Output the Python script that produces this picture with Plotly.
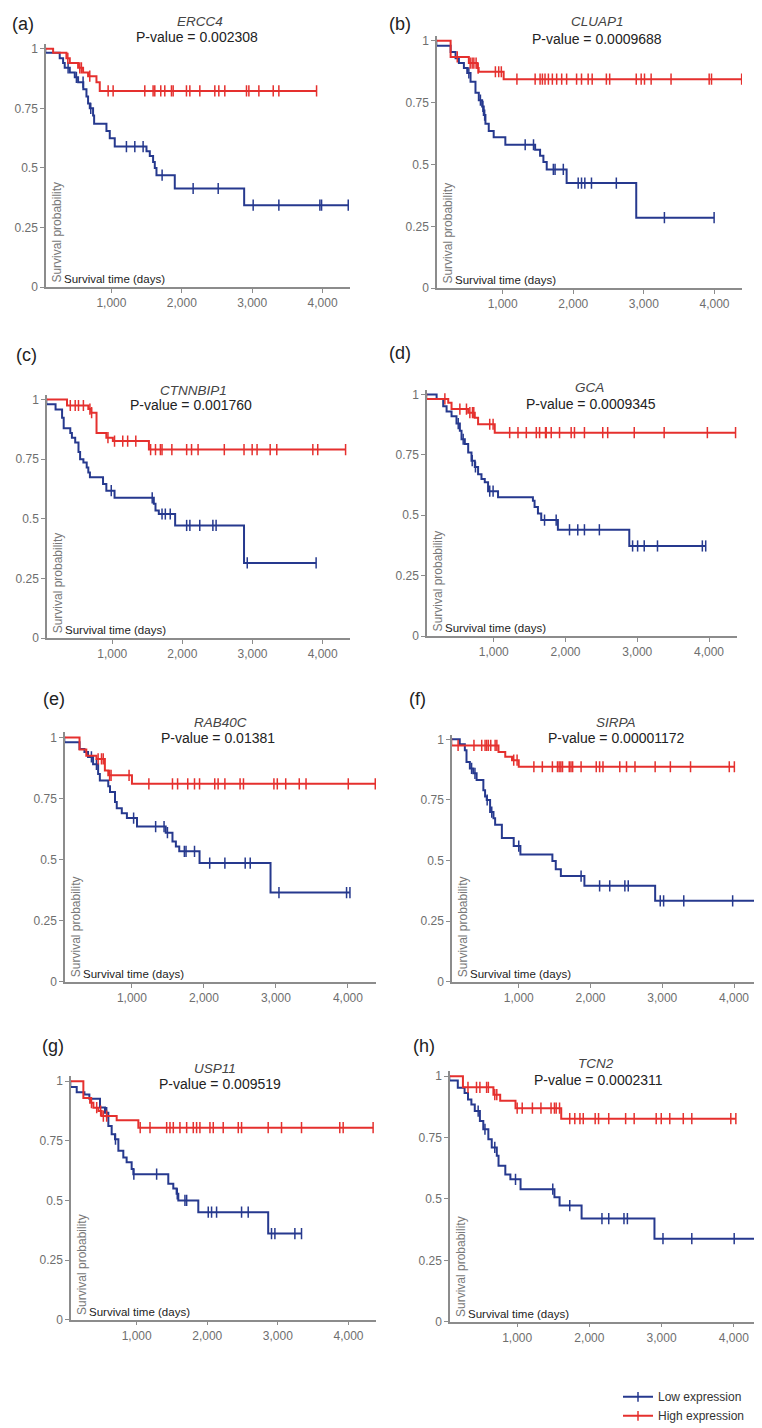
import numpy as np
import plotly.graph_objects as go

W, H = 762, 1428

panels = ["a", "b", "c", "d", "e", "f", "g", "h"]
genes = ["ERCC4", "CLUAP1", "CTNNBIP1", "GCA", "RAB40C", "SIRPA", "USP11", "TCN2"]
pvals = ["0.002308", "0.0009688", "0.001760", "0.0009345", "0.01381", "0.00001172", "0.009519", "0.0002311"]

x_ticks = [1000, 2000, 3000, 4000]
y_ticks = [0, 0.25, 0.5, 0.75, 1]
y_tick_text = ["0", "0.25", "0.5", "0.75", "1"]

# ---- (a) ERCC4 ----
a_low_t = [0, 60, 265, 313, 336, 408, 479, 526, 600, 645, 668, 692, 739, 754, 929, 976, 1047, 1498, 1545, 1592, 1616, 1640, 1900, 2886]
a_low_s = [1, 0.983, 0.96, 0.94, 0.92, 0.90, 0.88, 0.86, 0.83, 0.80, 0.77, 0.75, 0.72, 0.685, 0.655, 0.625, 0.59, 0.57, 0.55, 0.525, 0.50, 0.47, 0.414, 0.344]
a_low_c = [384, 502, 597, 706, 1213, 1332, 1450, 1720, 2161, 2517, 3014, 3379, 3962, 3986, 4365]
a_high_t = [0, 171, 360, 408, 526, 597, 668, 787, 834]
a_high_s = [1, 0.983, 0.96, 0.94, 0.92, 0.90, 0.885, 0.86, 0.823]
a_high_c = [380, 550, 573, 692, 953, 1024, 1474, 1592, 1616, 1701, 1758, 1853, 1877, 2066, 2114, 2256, 2469, 2526, 2611, 2919, 2953, 3095, 3299, 3379, 3915]

# ---- (b) CLUAP1 ----
b_low_t = [0, 60, 263, 333, 380, 451, 498, 545, 615, 662, 709, 732, 756, 803, 873, 1038, 1460, 1530, 1577, 1624, 1906, 2892]
b_low_s = [1, 0.98, 0.955, 0.93, 0.91, 0.89, 0.87, 0.835, 0.79, 0.76, 0.735, 0.70, 0.665, 0.635, 0.61, 0.58, 0.56, 0.535, 0.51, 0.48, 0.425, 0.285]
b_low_c = [521, 685, 720, 745, 1319, 1437, 1718, 1742, 1859, 2070, 2117, 2164, 2258, 2610, 3291, 3995]
b_high_t = [0, 263, 521, 640, 660, 1014]
b_high_s = [1, 0.935, 0.91, 0.89, 0.875, 0.845]
b_high_c = [357, 540, 568, 592, 624, 653, 897, 944, 981, 1202, 1460, 1530, 1563, 1600, 1648, 1704, 1765, 1836, 1906, 2047, 2117, 2211, 2268, 2469, 2516, 2892, 2962, 3009, 3103, 3385, 3925, 3958, 4385]

# ---- (c) CTNNBIP1 ----
c_low_t = [0, 60, 192, 285, 308, 402, 425, 472, 519, 542, 589, 636, 659, 682, 869, 916, 1033, 1593, 1617, 1664, 1897, 2879]
c_low_s = [1, 0.98, 0.958, 0.924, 0.88, 0.86, 0.84, 0.82, 0.78, 0.75, 0.736, 0.715, 0.694, 0.674, 0.646, 0.618, 0.588, 0.5625, 0.535, 0.52, 0.472, 0.315]
c_low_c = [986, 1570, 1710, 1757, 1827, 2061, 2107, 2248, 2435, 2481, 2925, 3907]
c_high_t = [0, 355, 659, 700, 776, 916, 1009, 1523]
c_high_s = [1, 0.975, 0.96, 0.945, 0.86, 0.84, 0.826, 0.79]
c_high_c = [402, 472, 519, 589, 682, 706, 939, 1033, 1150, 1220, 1336, 1547, 1617, 1687, 1710, 1850, 2061, 2131, 2224, 2598, 2879, 2995, 3065, 3252, 3346, 3860, 3930, 4327]

# ---- (d) GCA ----
d_low_t = [0, 204, 296, 343, 412, 481, 528, 551, 597, 644, 690, 736, 782, 829, 875, 921, 1060, 1546, 1569, 1616, 1662, 1894, 2889]
d_low_s = [1, 0.982, 0.952, 0.93, 0.91, 0.88, 0.85, 0.815, 0.795, 0.76, 0.726, 0.70, 0.67, 0.65, 0.637, 0.60, 0.575, 0.56, 0.534, 0.507, 0.48, 0.44, 0.373]
d_low_c = [505, 574, 700, 745, 944, 991, 1708, 1870, 2056, 2171, 2264, 2472, 2935, 3005, 3097, 3282, 3907, 3954]
d_high_t = [0, 60, 366, 412, 644, 736, 782, 1014]
d_high_s = [1, 0.982, 0.966, 0.94, 0.925, 0.904, 0.877, 0.842]
d_high_c = [319, 528, 620, 667, 704, 722, 944, 991, 1222, 1338, 1454, 1593, 1639, 1722, 1731, 1801, 1917, 2079, 2125, 2264, 2519, 2588, 2958, 3375, 3977, 4370]

# ---- (e) RAB40C ----
e_low_t = [0, 60, 272, 340, 390, 460, 530, 554, 671, 695, 765, 789, 859, 930, 1070, 1469, 1563, 1610, 1657, 1939, 2925]
e_low_s = [1, 0.98, 0.953, 0.94, 0.92, 0.89, 0.85, 0.824, 0.80, 0.777, 0.736, 0.71, 0.69, 0.67, 0.635, 0.61, 0.574, 0.554, 0.534, 0.486, 0.365]
e_low_c = [437, 507, 1023, 1329, 1446, 1493, 1728, 1751, 1869, 2080, 2291, 2573, 2643, 3042, 3981, 4028]
e_high_t = [0, 272, 366, 507, 624, 671, 1000]
e_high_s = [1, 0.95, 0.925, 0.912, 0.865, 0.845, 0.81]
e_high_c = [530, 577, 601, 690, 710, 960, 1235, 1563, 1634, 1775, 1869, 1939, 2150, 2197, 2291, 2502, 2549, 2972, 3019, 3136, 3324, 3418, 4005, 4380]

# ---- (f) SIRPA ----
f_low_t = [0, 178, 249, 272, 319, 366, 413, 507, 531, 554, 601, 648, 671, 765, 930, 1023, 1469, 1516, 1587, 1915, 2901]
f_low_s = [1, 0.98, 0.955, 0.907, 0.88, 0.86, 0.832, 0.79, 0.764, 0.75, 0.70, 0.675, 0.648, 0.593, 0.56, 0.525, 0.498, 0.464, 0.436, 0.396, 0.334]
f_low_c = [343, 390, 560, 624, 1000, 1869, 2127, 2268, 2479, 2526, 2972, 3019, 3300, 3981, 4385]
f_high_t = [0, 60, 718, 812, 906, 1000]
f_high_s = [1, 0.975, 0.948, 0.928, 0.914, 0.887]
f_high_c = [155, 376, 484, 531, 554, 577, 610, 671, 695, 930, 977, 1211, 1329, 1469, 1540, 1563, 1587, 1610, 1704, 1728, 1751, 1869, 2080, 2127, 2174, 2408, 2502, 2620, 2901, 3113, 3394, 3934, 4005]

# ---- (g) USP11 ----
g_low_t = [0, 60, 151, 260, 330, 481, 552, 599, 646, 693, 741, 811, 858, 929, 953, 1448, 1519, 1566, 1590, 1873, 2863]
g_low_s = [1, 0.976, 0.954, 0.944, 0.926, 0.89, 0.868, 0.8125, 0.778, 0.757, 0.708, 0.68, 0.66, 0.632, 0.61, 0.57, 0.55, 0.528, 0.50, 0.451, 0.361]
g_low_c = [575, 700, 960, 1283, 1575, 1684, 1708, 2014, 2061, 2132, 2486, 2580, 2910, 2958, 3241, 3335]
g_high_t = [0, 245, 340, 387, 458, 505, 717, 1024]
g_high_s = [1, 0.93, 0.91, 0.889, 0.875, 0.854, 0.836, 0.805]
g_high_c = [360, 434, 490, 528, 575, 1050, 1189, 1425, 1472, 1519, 1613, 1708, 1802, 1849, 1896, 2038, 2085, 2226, 2439, 2486, 2863, 3052, 3335, 3877, 3925, 4349]

# ---- (h) TCN2 ----
h_low_t = [0, 60, 178, 272, 319, 366, 413, 484, 531, 601, 648, 718, 742, 836, 906, 1047, 1516, 1587, 1892, 2901]
h_low_s = [1, 0.983, 0.953, 0.932, 0.905, 0.885, 0.858, 0.818, 0.784, 0.743, 0.71, 0.676, 0.635, 0.60, 0.58, 0.54, 0.507, 0.473, 0.42, 0.338]
h_low_c = [460, 554, 690, 977, 1493, 1728, 2174, 2268, 2479, 2526, 3019, 3418, 4005, 4385]
h_high_t = [0, 249, 671, 765, 977, 1610]
h_high_s = [1, 0.955, 0.925, 0.90, 0.87, 0.827]
h_high_c = [319, 437, 484, 577, 601, 690, 718, 1000, 1070, 1211, 1329, 1469, 1516, 1540, 1587, 1728, 1798, 1869, 1915, 2080, 2127, 2268, 2502, 2620, 2925, 2995, 3113, 3300, 3418, 3958, 4028]

G = globals()

# ---- layout geometry (pixels) ----
# y-axis x position, x-axis right end, y of value 1, y of value 0
geom = {
    "a": (38, 342, 39, 279), "b": (429, 734, 31, 280),
    "c": (39, 342, 392, 632), "d": (419, 729, 387, 630),
    "e": (57, 368, 732, 978), "f": (444, 754, 734, 978),
    "g": (63, 368, 1078, 1318), "h": (442, 754, 1073, 1320),
}
label_pos = {"a": (2, 14), "b": (379, 14), "c": (6, 347), "d": (379, 345),
             "e": (33, 693), "f": (399, 693), "g": (32, 1043), "h": (403, 1043)}
gene_pos = {"a": (192, 12), "b": (589, 12), "c": (185, 383), "d": (581, 380),
            "e": (212, 717), "f": (608, 717), "g": (207, 1065), "h": (588, 1060)}
pval_pos = {"a": (189, 27), "b": (589, 29), "c": (183, 398), "d": (583, 396),
            "e": (210, 733), "f": (608, 733), "g": (212, 1081), "h": (590, 1077)}

X0, X1 = 70, 4390
YTOP = 1.02
BLUE = "#26398e"
RED = "#e5302e"
AXC = "#8c8c8c"
FONT = "Liberation Sans, Arial, sans-serif"


def px(x):
    return x / W


def py(y):
    return 1 - y / H


def surv_at(t, s, c):
    idx = np.searchsorted(np.array(t), np.array(c), side="right") - 1
    return np.array(s)[idx]


fig = go.Figure()
annotations = []

for i, p in enumerate(panels):
    n = "" if i == 0 else str(i + 1)
    xa, ya = "x" + n, "y" + n
    yx, xe, y1, y0 = geom[p]
    ppu = y0 - y1
    fig.layout["xaxis" + n] = dict(
        domain=[px(yx), px(xe)], range=[X0, X1], anchor=ya,
        tickvals=x_ticks, tickformat=",", showline=True, linecolor=AXC, linewidth=1.5,
        ticks="outside", ticklen=4, tickcolor=AXC, tickwidth=1.2, showgrid=False, zeroline=False,
        tickfont=dict(size=12, color="#6e6e6e", family=FONT), fixedrange=True)
    fig.layout["yaxis" + n] = dict(
        domain=[py(y0), py(y1 - (YTOP - 1) * ppu)], range=[0, YTOP], anchor=xa,
        tickvals=y_ticks, ticktext=y_tick_text, showline=True, linecolor=AXC, linewidth=1.5,
        ticks="outside", ticklen=4, tickcolor=AXC, tickwidth=1.2, showgrid=False, zeroline=False,
        tickfont=dict(size=12, color="#6e6e6e", family=FONT), fixedrange=True)

    for grp, col in (("low", BLUE), ("high", RED)):
        t = G[f"{p}_{grp}_t"]
        s = G[f"{p}_{grp}_s"]
        c = G[f"{p}_{grp}_c"]
        end = max(c)
        fig.add_trace(go.Scatter(x=t + [end], y=s + [s[-1]], mode="lines", line_shape="hv",
                                 line=dict(color=col, width=2), xaxis=xa, yaxis=ya,
                                 showlegend=False, hoverinfo="skip"))
        fig.add_trace(go.Scatter(x=c, y=surv_at(t, s, c), mode="markers",
                                 marker=dict(symbol="line-ns", size=8, line=dict(color=col, width=1.5)),
                                 xaxis=xa, yaxis=ya, showlegend=False, hoverinfo="skip"))

    lx, ly = label_pos[p]
    annotations.append(dict(x=px(lx), y=py(ly), xref="paper", yref="paper", text=f"({p})",
                            showarrow=False, xanchor="left", yanchor="middle",
                            font=dict(size=18, color="#222", family=FONT)))
    gx, gy = gene_pos[p]
    annotations.append(dict(x=px(gx), y=py(gy), xref="paper", yref="paper", text=f"<i>{genes[i]}</i>",
                            showarrow=False, xanchor="center", yanchor="middle",
                            font=dict(size=13.5, color="#444", family=FONT)))
    vx, vy = pval_pos[p]
    annotations.append(dict(x=px(vx), y=py(vy), xref="paper", yref="paper", text=f"P-value = {pvals[i]}",
                            showarrow=False, xanchor="center", yanchor="middle",
                            font=dict(size=14, color="#222", family=FONT)))
    annotations.append(dict(x=px(yx + 11), y=py(y0 - 55), xref="paper", yref="paper",
                            text="Survival probability", textangle=-90, showarrow=False,
                            xanchor="center", yanchor="middle",
                            font=dict(size=12, color="#777", family=FONT)))
    annotations.append(dict(x=px(yx + 16), y=py(y0 - 8), xref="paper", yref="paper",
                            text="Survival time (days)", showarrow=False,
                            xanchor="left", yanchor="middle",
                            font=dict(size=11.5, color="#222", family=FONT)))

# legend entries (legend-only traces)
for name, col in (("Low expression", BLUE), ("High expression", RED)):
    fig.add_trace(go.Scatter(x=[None], y=[None], mode="lines+markers", name=name,
                             line=dict(color=col, width=2),
                             marker=dict(symbol="line-ns", size=7, line=dict(color=col, width=1.5)),
                             showlegend=True))

fig.update_layout(
    width=W, height=H, margin=dict(l=0, r=0, t=0, b=0),
    paper_bgcolor="white", plot_bgcolor="white",
    annotations=annotations,
    legend=dict(x=px(610), y=py(1381), xanchor="left", yanchor="top",
                font=dict(size=12, color="#333", family=FONT), itemwidth=30,
                tracegroupgap=0, bgcolor="rgba(0,0,0,0)"),
    font=dict(family=FONT),
)

fig.write_html("out.html")
